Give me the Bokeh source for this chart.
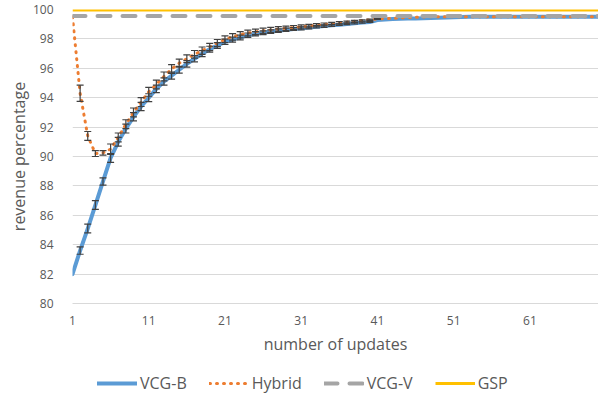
from bokeh.plotting import figure
from bokeh.layouts import column
from bokeh.models import (ColumnDataSource, Whisker, Legend, LegendItem, FixedTicker,
                          Range1d, TeeHead)
from bokeh.embed import file_html
from bokeh.resources import INLINE

updates = list(range(1, 71))

vcg_b = [82.0, 83.6, 85.1, 86.7, 88.3, 89.9, 91.0, 91.9, 92.7, 93.4,
         94.0, 94.6, 95.1, 95.5, 95.9, 96.3, 96.65, 97.0, 97.3, 97.55,
         97.8, 97.95, 98.1, 98.25, 98.35, 98.42, 98.5, 98.56, 98.62, 98.67,
         98.72, 98.77, 98.82, 98.87, 98.92, 98.97, 99.02, 99.07, 99.11, 99.15,
         99.28, 99.32, 99.35, 99.37, 99.38, 99.39, 99.4, 99.42, 99.44, 99.46,
         99.48, 99.49, 99.5, 99.5, 99.5, 99.5, 99.5, 99.5, 99.5, 99.5,
         99.5, 99.5, 99.5, 99.5, 99.5, 99.5, 99.5, 99.5, 99.5, 99.5]
vcg_b_err = [0.0, 0.25, 0.3, 0.3, 0.25, 0.3, 0.3, 0.3, 0.28, 0.28,
             0.27, 0.26, 0.25, 0.24, 0.23, 0.22, 0.21, 0.2, 0.2, 0.19,
             0.18, 0.17, 0.16, 0.15, 0.14, 0.13, 0.12, 0.12, 0.11, 0.1,
             0.1, 0.09, 0.08, 0.08, 0.07, 0.06, 0.05, 0.05, 0.04, 0.03,
             0.0, 0.0, 0.0, 0.0, 0.0, 0.0, 0.0, 0.0, 0.0, 0.0,
             0.0, 0.0, 0.0, 0.0, 0.0, 0.0, 0.0, 0.0, 0.0, 0.0,
             0.0, 0.0, 0.0, 0.0, 0.0, 0.0, 0.0, 0.0, 0.0, 0.0]

hybrid = [99.5, 94.3, 91.4, 90.2, 90.25, 90.5, 91.3, 92.2, 93.0, 93.7,
          94.4, 94.9, 95.45, 95.95, 96.35, 96.65, 96.95, 97.2, 97.45, 97.72,
          97.97, 98.14, 98.28, 98.4, 98.48, 98.55, 98.61, 98.67, 98.72, 98.77,
          98.82, 98.87, 98.93, 98.98, 99.04, 99.09, 99.14, 99.2, 99.25, 99.3,
          99.35, 99.38, 99.4, 99.43, 99.45, 99.47, 99.49, 99.5, 99.5, 99.5,
          99.5, 99.5, 99.5, 99.5, 99.5, 99.5, 99.5, 99.5, 99.5, 99.5,
          99.5, 99.5, 99.5, 99.5, 99.5, 99.5, 99.5, 99.5, 99.5, 99.5]
hybrid_err = [0.0, 0.55, 0.3, 0.2, 0.15, 0.35, 0.3, 0.3, 0.3, 0.3,
              0.3, 0.3, 0.3, 0.3, 0.28, 0.27, 0.26, 0.25, 0.25, 0.24,
              0.23, 0.22, 0.21, 0.2, 0.19, 0.18, 0.17, 0.16, 0.15, 0.14,
              0.13, 0.12, 0.11, 0.1, 0.09, 0.08, 0.07, 0.06, 0.05, 0.04,
              0.03, 0.0, 0.0, 0.0, 0.0, 0.0, 0.0, 0.0, 0.0, 0.0,
              0.0, 0.0, 0.0, 0.0, 0.0, 0.0, 0.0, 0.0, 0.0, 0.0,
              0.0, 0.0, 0.0, 0.0, 0.0, 0.0, 0.0, 0.0, 0.0, 0.0]

vcg_v = [99.55] * len(updates)
gsp = [99.97] * len(updates)

series = {"VCG-B": vcg_b, "Hybrid": hybrid, "VCG-V": vcg_v, "GSP": gsp}

x_ticks = [1, 11, 21, 31, 41, 51, 61]
y_ticks = [80, 82, 84, 86, 88, 90, 92, 94, 96, 98, 100]

FONT = "Open Sans"
TXT = "#595959"

STYLES = {
    "VCG-B": dict(line_color="#5B9BD5", line_width=4, line_join="round", line_cap="round"),
    "Hybrid": dict(line_color="#ED7D31", line_width=3, line_dash="1 6", line_cap="round", line_join="round"),
    "VCG-V": dict(line_color="#A5A5A5", line_width=4, line_dash="13 12", line_cap="round"),
    "GSP": dict(line_color="#FFC000", line_width=3),
}

p = figure(width=598, height=371, x_range=Range1d(1, 70), y_range=Range1d(80, 100),
           output_backend="svg", toolbar_location=None,
           min_border_left=72, min_border_right=0, min_border_top=9, min_border_bottom=68)
p.outline_line_color = None
p.background_fill_color = "white"
p.border_fill_color = "white"

p.xgrid.grid_line_color = None
p.ygrid.grid_line_color = "#D9D9D9"
p.ygrid.grid_line_width = 1

p.xaxis.ticker = FixedTicker(ticks=x_ticks)
p.yaxis.ticker = FixedTicker(ticks=y_ticks)
for ax in (p.xaxis[0], p.yaxis[0]):
    ax.major_tick_line_color = None
    ax.minor_tick_line_color = None
    ax.major_label_text_font = FONT
    ax.major_label_text_font_size = "12px"
    ax.major_label_text_color = TXT
    ax.axis_label_text_font = FONT
    ax.axis_label_text_font_size = "16px"
    ax.axis_label_text_font_style = "normal"
    ax.axis_label_text_color = TXT
p.yaxis.axis_line_color = None
p.xaxis.axis_line_color = "#D9D9D9"
p.xaxis.axis_label = "number of updates"
p.yaxis.axis_label = "revenue percentage"
p.yaxis.major_label_standoff = 13
p.yaxis.axis_label_standoff = 0
p.xaxis.major_label_standoff = 6
p.xaxis.axis_label_standoff = 5

p.line(updates, vcg_b, **STYLES["VCG-B"])
p.line(updates, hybrid, **STYLES["Hybrid"])

def add_err(vals, errs):
    xs = [x for x, e in zip(updates, errs) if e > 0]
    up = [v + e for v, e in zip(vals, errs) if e > 0]
    lo = [v - e for v, e in zip(vals, errs) if e > 0]
    src = ColumnDataSource(dict(x=xs, upper=up, lower=lo))
    w = Whisker(base="x", upper="upper", lower="lower", source=src,
                line_color="#404040", line_width=1.2, level="glyph",
                upper_head=TeeHead(size=7, line_color="#404040", line_width=1.2),
                lower_head=TeeHead(size=7, line_color="#404040", line_width=1.2))
    p.add_layout(w)

add_err(vcg_b, vcg_b_err)
add_err(hybrid, hybrid_err)

p.line(updates, vcg_v, **STYLES["VCG-V"])
p.line(updates, gsp, **STYLES["GSP"])

# legend strip below the chart (its lines hold the same series, outside the strip's view)
lg = figure(width=598, height=24, x_range=Range1d(-1, 0), y_range=Range1d(-1, 0),
            output_backend="svg", toolbar_location=None,
            min_border_left=0, min_border_right=0, min_border_top=0, min_border_bottom=0)
lg.axis.visible = False
lg.grid.visible = False
lg.outline_line_color = None
items = []
for name in ["VCG-B", "Hybrid", "VCG-V", "GSP"]:
    r = lg.line(updates, series[name], **STYLES[name])
    items.append(LegendItem(label=name, renderers=[r]))
legend = Legend(items=items, orientation="horizontal", location=(25, 1),
                glyph_width=40, glyph_height=20, label_standoff=3, spacing=22,
                padding=0, margin=0, border_line_color=None, background_fill_alpha=0,
                label_text_font=FONT, label_text_font_size="16px", label_text_color=TXT)
lg.add_layout(legend, "center")

layout = column(p, lg, spacing=0)
open("out.html", "w").write(file_html(layout, INLINE))
